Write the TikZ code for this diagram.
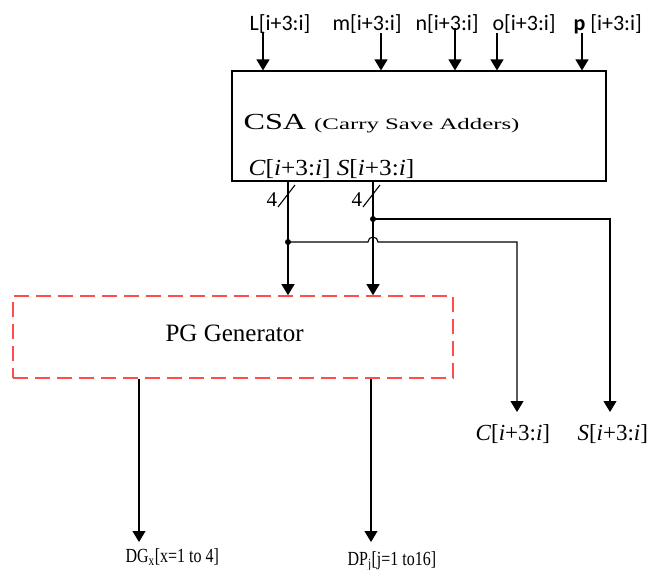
\documentclass[tikz,border=0pt]{standalone}
\usepackage{fontspec}
\setmainfont{Liberation Serif}
\newfontfamily\lblfont{Carlito}
\newfontfamily\csafont[FakeStretch=1.4]{Liberation Serif}
\newfontfamily\widefont[FakeStretch=1.55]{Liberation Serif}
\newfontfamily\midfont[FakeStretch=1.1]{Liberation Serif}
\newfontfamily\narrowfont[FakeStretch=0.8]{Liberation Serif}
\usepackage{tikz}
\usetikzlibrary{arrows.meta,positioning,calc}
\definecolor{pgred}{RGB}{255,77,77}

\begin{document}
\begin{tikzpicture}[
  x=1pt, y=-1pt,
  line width=1.1pt,
  box/.style={draw, rectangle, inner sep=0pt},
  pgbox/.style={draw=pgred, dash pattern=on 15pt off 7pt, line width=1.6pt, inner sep=0pt},
  txt/.style={anchor=base west, inner sep=0pt},
  inlbl/.style={txt, font=\lblfont\fontsize{22}{24}\selectfont},
  arr/.style={-{Triangle[width=13pt,length=11pt]}},
  dot/.style={circle, fill, inner sep=0pt, minimum size=6pt}
]
\useasboundingbox (0,0) rectangle (648,570);

\node[box, minimum width=374pt, minimum height=110pt] (csa) at (419,126) {};
\node[pgbox, minimum width=440pt, minimum height=82pt] (pg) at (233,337) {};

\node[inlbl] (inl) at (249,30) {L[i+3:i]};
\node[inlbl] (inm) at (332,30) {m[i+3:i]};
\node[inlbl] (inn) at (415,30) {n[i+3:i]};
\node[inlbl] (ino) at (492,30) {o[i+3:i]};
\node[inlbl] (inp) at (573,30) {\textbf{p} [i+3:i]};

\coordinate (al) at (263,33);
\coordinate (am) at (381,33);
\coordinate (an) at (455,28);
\coordinate (ao) at (497,33);
\coordinate (ap) at (582,33);
\draw[arr] (al) -- (al |- csa.north);
\draw[arr] (am) -- (am |- csa.north);
\draw[arr] (an) -- (an |- csa.north);
\draw[arr] (ao) -- (ao |- csa.north);
\draw[arr] (ap) -- (ap |- csa.north);

\node[txt, font=\csafont\fontsize{23}{26}\selectfont] (csat) at (243,129) {CSA {\widefont\fontsize{16}{18}\selectfont (Carry Save Adders)}};
\node[txt, font=\midfont\fontsize{23}{26}\selectfont] (cst) at (248,175) {\textit{C}[\textit{i}+3:\textit{i}] \textit{S}[\textit{i}+3:\textit{i}]};

% carry and sum buses
\coordinate (cb) at (288,181);
\coordinate (sb) at (373,181);
\coordinate (cj) at (288,242);
\coordinate (sj) at (373,219);
\coordinate (cr) at (517,412);
\coordinate (sr) at (610,412);
\draw (cb) -- (cj);
\draw (sb) -- (sj);
\draw ($(cb)+(-10,26)$) -- ($(cb)+(7,4)$);
\draw ($(sb)+(-10,26)$) -- ($(sb)+(7,4)$);
\node[txt, font=\fontsize{21}{22}\selectfont] (cn) at (266,206) {4};
\node[txt, font=\fontsize{21}{22}\selectfont] (sn) at (351,206) {4};
\draw[arr] (cj) -- (cj |- pg.north);
\draw[arr] (sj) -- (sj |- pg.north);
\draw[arr] (sj) -| (sr);
\draw[arr] (cj) -- ($(cj -| sj)+(-5,0)$) arc[start angle=180, end angle=360, radius=5] -| (cr);
\node[dot] (cdot) at (cj) {};
\node[dot] (sdot) at (sj) {};

\node[txt, font=\fontsize{23}{26}\selectfont] (cot) at (475,440) {\textit{C}[\textit{i}+3:\textit{i}]};
\node[txt, font=\fontsize{23}{26}\selectfont] (sot) at (577,440) {\textit{S}[\textit{i}+3:\textit{i}]};

\node[txt, font=\fontsize{25}{28}\selectfont] (pgt) at (165,341) {PG Generator};

\coordinate (dg) at (139,542);
\coordinate (dp) at (371,542);
\draw[arr] (dg |- pg.south) -- (dg);
\draw[arr] (dp |- pg.south) -- (dp);
\node[txt, font=\narrowfont\fontsize{20}{22}\selectfont] (dgt) at (125,562) {DG\textsubscript{x}[x=1 to 4]};
\node[txt, font=\narrowfont\fontsize{20}{22}\selectfont] (dpt) at (347,565) {DP\textsubscript{j}[j=1 to16]};
\end{tikzpicture}
\end{document}
